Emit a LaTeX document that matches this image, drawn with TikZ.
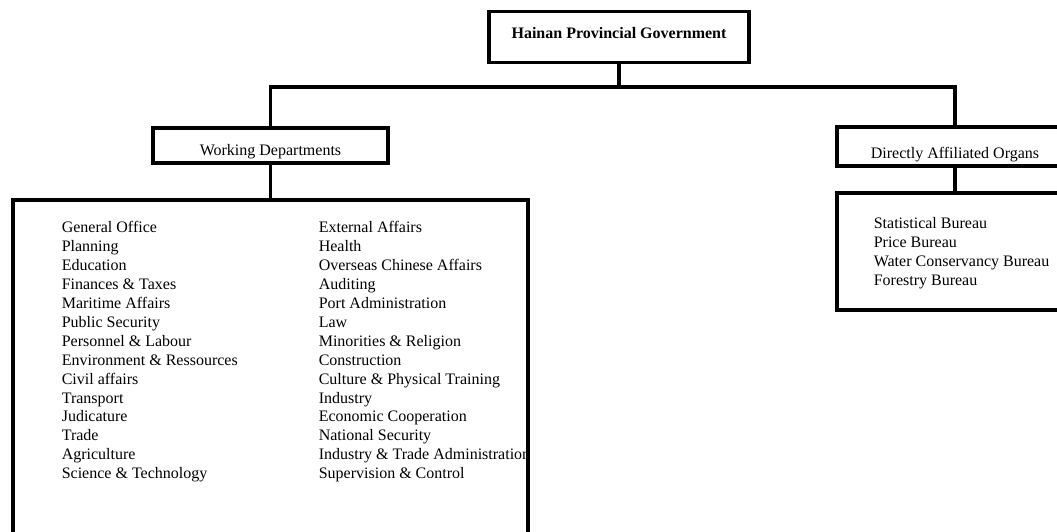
\documentclass[tikz,border=0pt]{standalone}
\usepackage{fontspec}
\setmainfont{Liberation Serif}
\usetikzlibrary{positioning}

\begin{document}
\begin{tikzpicture}[x=1pt,y=-1pt,line width=3.6pt,
  box/.style={draw,rectangle,inner sep=0pt,font=\fontsize{16}{19}\selectfont},
  item/.style={anchor=base west,inner sep=0pt,font=\fontsize{16}{19}\selectfont}]
  \useasboundingbox (0,0) rectangle (1057,531);

  \node[box,minimum width=260pt,minimum height=51pt,text depth=9pt,
        font=\fontsize{16}{19}\selectfont\bfseries] (gov) at (619,37) {Hainan Provincial Government};
  \coordinate (split) at (619,87);

  \node[box,minimum width=235pt,minimum height=35pt,text height=23pt,text depth=3.4pt] (wd) at (270.5,145.5) {Working Departments};
  \node[box,minimum width=236pt,minimum height=39pt,text height=27pt,text depth=3.4pt] (dao) at (955,146.5) {Directly Affiliated Organs};

  \node[box,minimum width=515pt,minimum height=350pt] (wdlist) at (270.5,375) {};
  \node[box,minimum width=236pt,minimum height=117pt] (daolist) at (955,251.5) {};

  \draw (gov.south) -- (split);
  \draw (wd.north) |- (split) -| (dao.north);
  \draw (wd.south) -- (wdlist.north);
  \draw (dao.south) -- (daolist.north);

  \begin{scope}
   \clip (wdlist.north west) rectangle ([xshift=-1.8pt]wdlist.south east);
   \foreach \name [count=\i] in {General Office, Planning, Education, Finances \& Taxes,
       Maritime Affairs, Public Security, Personnel \& Labour, Environment \& Ressources,
       Civil affairs, Transport, Judicature, Trade, Agriculture, Science \& Technology}
     \node[item] (wa\i) at (60,214+18.9*\i) {\name};
   \foreach \name [count=\i] in {External Affairs, Health, Overseas Chinese Affairs, Auditing,
       Port Administration, Law, Minorities \& Religion, Construction,
       Culture \& Physical Training, Industry, Economic Cooperation, National Security,
       Industry \& Trade Administration, Supervision \& Control}
     \node[item] (wb\i) at (317,214+18.9*\i) {\name};
  \end{scope}

  \foreach \name [count=\i] in {Statistical Bureau, Price Bureau, Water Conservancy Bureau, Forestry Bureau}
    \node[item] (da\i) at (872,209+19*\i) {\name};
\end{tikzpicture}
\end{document}
